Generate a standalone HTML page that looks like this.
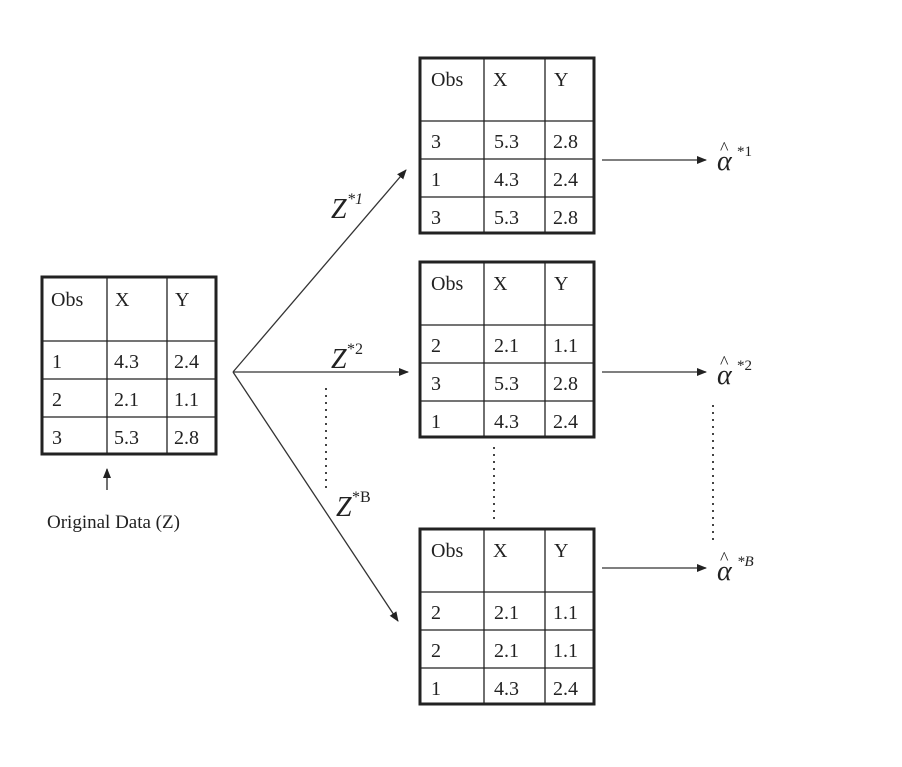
<!DOCTYPE html>
<html><head><meta charset="utf-8"><style>
html,body{margin:0;padding:0;background:#fff;}
svg{display:block;}
text{font-family:"Liberation Serif",serif;fill:#222;}
</style></head><body>
<svg width="902" height="767" viewBox="0 0 902 767" xmlns="http://www.w3.org/2000/svg">
<defs>
<marker id="ah" markerWidth="10" markerHeight="8" refX="9" refY="4" orient="auto" markerUnits="userSpaceOnUse">
<path d="M0,0 L10,4 L0,8 z" fill="#222"/>
</marker>
</defs>

<!-- Left table -->
<g stroke="#222" fill="none">
<rect x="42" y="277" width="174" height="177" stroke-width="3"/>
<line x1="107" y1="277" x2="107" y2="454" stroke-width="1.3"/>
<line x1="167" y1="277" x2="167" y2="454" stroke-width="1.3"/>
<line x1="42" y1="341" x2="216" y2="341" stroke-width="1.3"/>
<line x1="42" y1="379" x2="216" y2="379" stroke-width="1.3"/>
<line x1="42" y1="417" x2="216" y2="417" stroke-width="1.3"/>
</g>
<g font-size="20">
<text x="51" y="306">Obs</text><text x="115" y="306">X</text><text x="175" y="306">Y</text>
<text x="52" y="368">1</text><text x="114" y="368">4.3</text><text x="174" y="368">2.4</text>
<text x="52" y="406">2</text><text x="114" y="406">2.1</text><text x="174" y="406">1.1</text>
<text x="52" y="444">3</text><text x="114" y="444">5.3</text><text x="174" y="444">2.8</text>
</g>
<line x1="107" y1="490" x2="107" y2="469" stroke="#222" stroke-width="1.3" marker-end="url(#ah)"/>
<text x="47" y="528" font-size="19">Original Data (Z)</text>

<!-- Right tables -->
<g id="t1">
<g stroke="#222" fill="none">
<rect x="420" y="58" width="174" height="175" stroke-width="3"/>
<line x1="484" y1="58" x2="484" y2="233" stroke-width="1.3"/>
<line x1="545" y1="58" x2="545" y2="233" stroke-width="1.3"/>
<line x1="420" y1="121" x2="594" y2="121" stroke-width="1.3"/>
<line x1="420" y1="159" x2="594" y2="159" stroke-width="1.3"/>
<line x1="420" y1="197" x2="594" y2="197" stroke-width="1.3"/>
</g>
<g font-size="20">
<text x="431" y="86">Obs</text><text x="493" y="86">X</text><text x="554" y="86">Y</text>
<text x="431" y="148">3</text><text x="494" y="148">5.3</text><text x="553" y="148">2.8</text>
<text x="431" y="186">1</text><text x="494" y="186">4.3</text><text x="553" y="186">2.4</text>
<text x="431" y="224">3</text><text x="494" y="224">5.3</text><text x="553" y="224">2.8</text>
</g>
</g>

<g transform="translate(0,204)">
<g stroke="#222" fill="none">
<rect x="420" y="58" width="174" height="175" stroke-width="3"/>
<line x1="484" y1="58" x2="484" y2="233" stroke-width="1.3"/>
<line x1="545" y1="58" x2="545" y2="233" stroke-width="1.3"/>
<line x1="420" y1="121" x2="594" y2="121" stroke-width="1.3"/>
<line x1="420" y1="159" x2="594" y2="159" stroke-width="1.3"/>
<line x1="420" y1="197" x2="594" y2="197" stroke-width="1.3"/>
</g>
<g font-size="20">
<text x="431" y="86">Obs</text><text x="493" y="86">X</text><text x="554" y="86">Y</text>
<text x="431" y="148">2</text><text x="494" y="148">2.1</text><text x="553" y="148">1.1</text>
<text x="431" y="186">3</text><text x="494" y="186">5.3</text><text x="553" y="186">2.8</text>
<text x="431" y="224">1</text><text x="494" y="224">4.3</text><text x="553" y="224">2.4</text>
</g>
</g>

<g transform="translate(0,471)">
<g stroke="#222" fill="none">
<rect x="420" y="58" width="174" height="175" stroke-width="3"/>
<line x1="484" y1="58" x2="484" y2="233" stroke-width="1.3"/>
<line x1="545" y1="58" x2="545" y2="233" stroke-width="1.3"/>
<line x1="420" y1="121" x2="594" y2="121" stroke-width="1.3"/>
<line x1="420" y1="159" x2="594" y2="159" stroke-width="1.3"/>
<line x1="420" y1="197" x2="594" y2="197" stroke-width="1.3"/>
</g>
<g font-size="20">
<text x="431" y="86">Obs</text><text x="493" y="86">X</text><text x="554" y="86">Y</text>
<text x="431" y="148">2</text><text x="494" y="148">2.1</text><text x="553" y="148">1.1</text>
<text x="431" y="186">2</text><text x="494" y="186">2.1</text><text x="553" y="186">1.1</text>
<text x="431" y="224">1</text><text x="494" y="224">4.3</text><text x="553" y="224">2.4</text>
</g>
</g>

<!-- Fan arrows -->
<g stroke="#333" stroke-width="1.3" fill="none">
<line x1="233" y1="372" x2="406" y2="170" marker-end="url(#ah)"/>
<line x1="233" y1="372" x2="408" y2="372" marker-end="url(#ah)"/>
<line x1="233" y1="372" x2="398" y2="621" marker-end="url(#ah)"/>
<line x1="602" y1="160" x2="706" y2="160" marker-end="url(#ah)"/>
<line x1="602" y1="372" x2="706" y2="372" marker-end="url(#ah)"/>
<line x1="602" y1="568" x2="706" y2="568" marker-end="url(#ah)"/>
</g>
<!-- dotted lines -->
<g stroke="#444" stroke-width="2" stroke-dasharray="2,5" fill="none">
<line x1="326" y1="388" x2="326" y2="488"/>
<line x1="494" y1="447" x2="494" y2="520"/>
<line x1="713" y1="405" x2="713" y2="540"/>
</g>

<!-- Z labels -->
<g font-style="italic">
<text x="331" y="218" font-size="28" font-family="Liberation Sans,sans-serif">Z</text>
<text x="347" y="204" font-size="16">*1</text>
<text x="331" y="368" font-size="28" font-family="Liberation Sans,sans-serif">Z</text>
<text x="347" y="354" font-size="16" font-style="normal">*2</text>
<text x="336" y="516" font-size="28" font-family="Liberation Sans,sans-serif">Z</text>
<text x="352" y="502" font-size="16" font-style="normal">*B</text>
</g>

<!-- alpha hats -->
<g>
<text x="717" y="170" font-size="28" font-style="italic" font-family="Liberation Sans,sans-serif">α</text>
<text x="720" y="154" font-size="18">^</text>
<text x="737" y="156" font-size="15">*1</text>
<text x="717" y="384" font-size="28" font-style="italic" font-family="Liberation Sans,sans-serif">α</text>
<text x="720" y="368" font-size="18">^</text>
<text x="737" y="370" font-size="15">*2</text>
<text x="717" y="580" font-size="28" font-style="italic" font-family="Liberation Sans,sans-serif">α</text>
<text x="720" y="564" font-size="18">^</text>
<text x="737" y="566" font-size="15" font-style="italic">*B</text>
</g>
</svg>
</body></html>
